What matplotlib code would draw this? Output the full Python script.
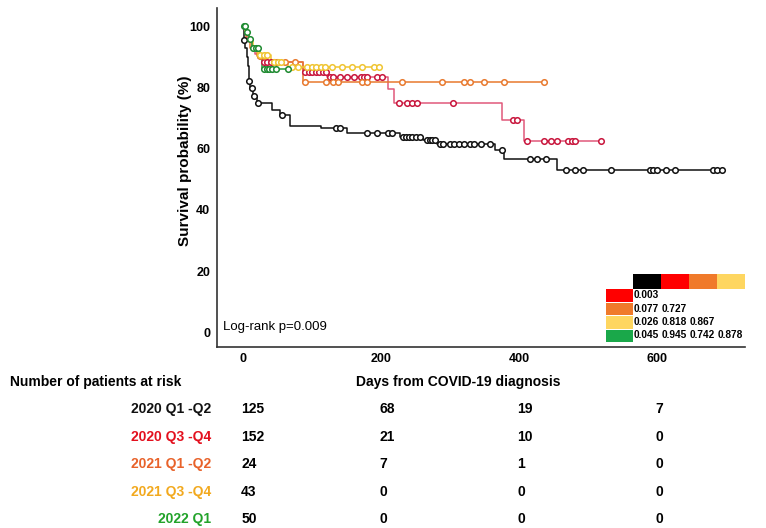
import numpy as np
import matplotlib.pyplot as plt
import matplotlib.transforms as mtransforms
from matplotlib.patches import Rectangle
from matplotlib import font_manager

# pick a condensed font if present
names = {f.name for f in font_manager.fontManager.ttflist}
narrow = 'Liberation Sans Narrow' if 'Liberation Sans Narrow' in names else 'Liberation Sans'
plt.rcParams['font.family'] = ['Liberation Sans', 'DejaVu Sans']

# --- data ---
groups = ['2020 Q1 -Q2', '2020 Q3 -Q4', '2021 Q1 -Q2', '2021 Q3 -Q4', '2022 Q1']

black_t = [0, 1, 3, 5, 7, 8, 9, 10, 14, 20, 42, 54, 68, 112, 150, 227, 261, 281, 365, 378, 455]
black_s = [100, 95.7, 93, 90, 87, 84.5, 82, 80, 77.4, 74.8, 72.8, 71.1, 67.5, 66.9, 65.2, 64, 63, 61.6, 59.5, 56.7, 53.1]
black_c = [1, 9, 12, 16, 22, 56, 135, 140, 180, 194, 210, 215, 232, 236, 240, 245, 250, 256, 266, 270, 274,
           278, 285, 290, 300, 305, 312, 320, 328, 335, 345, 358, 375, 416, 426, 439, 467, 481, 493, 533,
           590, 593, 600, 612, 626, 680, 687, 694]

red_t = [0, 2, 5, 8, 12, 17, 22, 28, 87, 122, 210, 218, 375, 407]
red_s = [100, 98, 96.5, 95, 93, 91, 89.5, 88.5, 85.2, 83.6, 79.5, 75, 69.5, 62.6]
red_c = [30, 35, 40, 45, 49, 90, 95, 100, 105, 110, 115, 120, 125, 130, 140, 150, 160, 170, 175, 180,
         194, 201, 225, 238, 245, 252, 304, 391, 396, 411, 436, 446, 455, 471, 477, 481, 519]

orange_t = [0, 4, 10, 20, 35, 87]
orange_s = [100, 95.8, 93, 90.2, 88.2, 81.8]
orange_c = [25, 30, 61, 75, 90, 120, 130, 138, 172, 180, 230, 288, 320, 328, 349, 378, 436]

yellow_t = [0, 3, 8, 14, 22, 40, 65]
yellow_s = [100, 97.7, 95.3, 93, 90.7, 88.4, 86.7]
yellow_c = [20, 25, 30, 35, 45, 50, 55, 70, 80, 92, 100, 105, 112, 118, 128, 143, 158, 172, 190, 196]

green_t = [0, 4, 8, 12, 25, 27]
green_s = [100, 98, 96, 93, 89.5, 86]
green_c = [1, 2, 6, 10, 14, 18, 22, 30, 34, 38, 42, 48, 65]

risk_days = [0, 200, 400, 600]
risk_counts = [[125, 68, 19, 7],
               [152, 21, 10, 0],
               [24, 7, 1, 0],
               [43, 0, 0, 0],
               [50, 0, 0, 0]]

pval_rows = [['0.003'],
             ['0.077', '0.727'],
             ['0.026', '0.818', '0.867'],
             ['0.045', '0.945', '0.742', '0.878']]

line_colors = ['#111111', '#e0587a', '#e8792e', '#f0c531', '#2a9a3a']
mark_colors = ['#111111', '#c8153c', '#e8792e', '#f0c531', '#1e8a30']
label_colors = ['#111111', '#e3101e', '#e8622a', '#f2a91e', '#22a32a']
cell_colors = ['#000000', '#ff0000', '#f07a2a', '#fed660', '#1aa84a']

curves = [(black_t, black_s, black_c), (red_t, red_s, red_c), (orange_t, orange_s, orange_c),
          (yellow_t, yellow_s, yellow_c), (green_t, green_s, green_c)]

W, H = 766, 528
fig = plt.figure(figsize=(W / 100, H / 100), dpi=100)
ax = fig.add_axes([217 / W, 1 - 347 / H, (745 - 217) / W, (347 - 8) / H])

for (t, s, c), lc, mc in zip(curves, line_colors, mark_colors):
    t = np.array(t, float)
    s = np.array(s, float)
    c = np.array(c, float)
    end = max(t.max(), c.max())
    ax.step(np.append(t, end), np.append(s, s[-1]), where='post', color=lc, lw=1.1, zorder=2)
    # survival level at each censor time
    cs = s[np.searchsorted(t, c, side='right') - 1]
    ax.plot(c, cs, 'o', ms=4, mfc='white', mec=mc, mew=1.1, ls='none', zorder=3)

ax.set_xlim(-38, 727)
ax.set_ylim(-4.8, 106)
ax.set_xticks(risk_days)
ax.set_yticks([0, 20, 40, 60, 80, 100])
ax.tick_params(axis='x', length=0, labelsize=9, pad=4)
ax.tick_params(axis='y', length=0, labelsize=9, pad=5)
for lab in ax.get_xticklabels() + ax.get_yticklabels():
    lab.set_fontweight('bold')
ax.spines['top'].set_visible(False)
ax.spines['right'].set_visible(False)
for sp in ['left', 'bottom']:
    ax.spines[sp].set_color('#333333')
    ax.spines[sp].set_linewidth(1.2)
ax.set_ylabel('Survival probability (%)', fontsize=11, fontweight='bold')
ax.yaxis.set_label_coords(-0.047, 0.55)
ax.text(223 / W, 1 - 327 / H, 'Log-rank p=0.009', transform=fig.transFigure, fontsize=9.5, va='center')

# p-value table inside the plot
xs = [606, 633, 661, 689, 717, 745]
ys = [274, 288.5, 302, 315.5, 329, 342]
header = ['#ffffff'] + cell_colors[:4]
for j in range(5):
    fig.patches.append(Rectangle((xs[j] / W, 1 - ys[1] / H), (xs[j + 1] - xs[j]) / W, (ys[1] - ys[0]) / H,
                                 transform=fig.transFigure, facecolor=header[j], edgecolor='none'))
for i, row in enumerate(pval_rows):
    y0, y1 = ys[i + 1], ys[i + 2]
    fig.patches.append(Rectangle((xs[0] / W, 1 - (y1 - 0.5) / H), (xs[1] - xs[0]) / W, (y1 - y0 - 1) / H,
                                 transform=fig.transFigure, facecolor=cell_colors[i + 1], edgecolor='none'))
    for j, p in enumerate(row):
        fig.text((xs[j + 1] + 1) / W, 1 - (y0 + y1) / 2 / H, p, fontsize=7.3, fontweight='bold', va='center')

# risk table below
tr = mtransforms.blended_transform_factory(ax.transData, fig.transFigure)
fig.text(10 / W, 1 - 382 / H, 'Number of patients at risk', fontsize=10, fontweight='bold',
         family=narrow, va='center')
fig.text(458 / W, 1 - 382 / H, 'Days from COVID-19 diagnosis', fontsize=10, fontweight='bold',
         family=narrow, va='center', ha='center')
row_y = [409, 437, 464, 492, 519]
for g, col, counts, yy in zip(groups, label_colors, risk_counts, row_y):
    fig.text(211 / W, 1 - yy / H, g, fontsize=10, fontweight='bold', family=narrow,
             color=col, ha='right', va='center')
    for d, n in zip(risk_days, counts):
        ax.text(d - 3, 1 - yy / H, str(n), transform=tr, fontsize=10, fontweight='bold',
                family=narrow, ha='left', va='center')

fig.savefig('out.png', dpi=100)
